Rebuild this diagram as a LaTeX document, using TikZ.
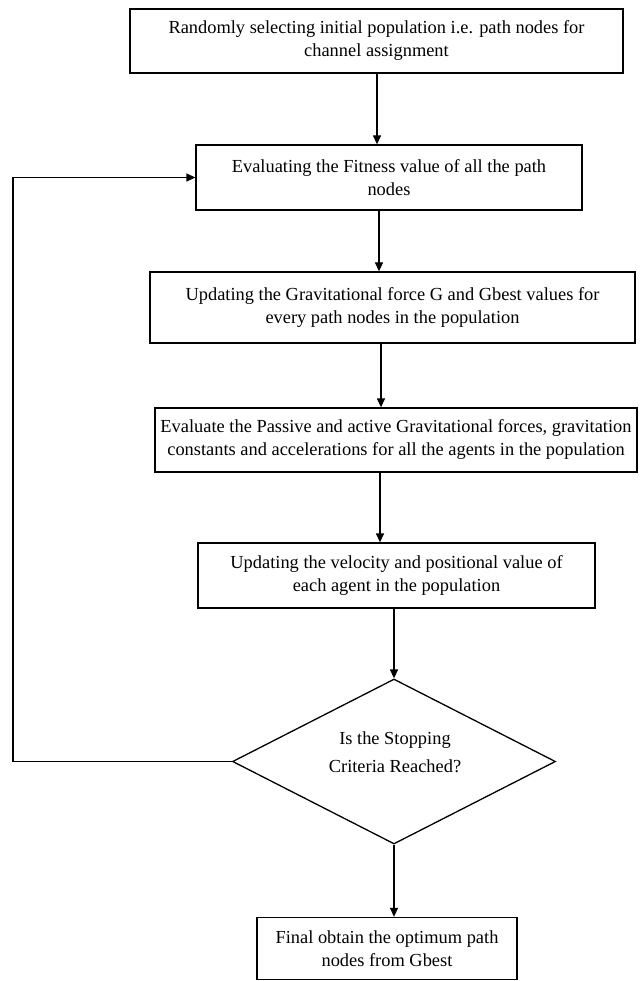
\documentclass[tikz,border=0pt]{standalone}
\usepackage{fontspec}
\setmainfont{Liberation Serif}
\usetikzlibrary{shapes.geometric,arrows.meta}
\begin{document}
\begin{tikzpicture}[x=1pt,y=-1pt,
  txt/.style={font=\fontsize{18.4}{23}\selectfont,align=center},
  box/.style={draw,line width=1.3pt,rectangle,inner sep=0pt,txt},
  arr/.style={line width=1.3pt,-{Triangle[length=9pt,width=8pt]}},
  ]
\useasboundingbox (0,0) rectangle (639,981);
\node[box,minimum width=493pt,minimum height=64pt] (b1) at (376.5,41)
  {Randomly selecting initial population i.e. path nodes for\\channel assignment};
\node[box,minimum width=386pt,minimum height=65pt] (b2) at (389,177.5)
  {Evaluating the Fitness value of all the path\\nodes};
\node[box,minimum width=485pt,minimum height=71pt] (b3) at (392.5,307.5)
  {Updating the Gravitational force G and Gbest values for\\every path nodes in the population};
\node[box,minimum width=482pt,minimum height=64pt] (b4) at (396,440)
  {Evaluate the Passive and active Gravitational forces, gravitation\\constants and accelerations for all the agents in the population};
\node[box,minimum width=397pt,minimum height=65pt] (b5) at (396.5,575.5)
  {Updating the velocity and positional value of\\each agent in the population};
\node[draw,diamond,line width=1.3pt,inner sep=0pt,minimum width=323pt,minimum height=165pt] (d) at (394,761.5) {};
\node[txt,font=\fontsize{18.4}{28}\selectfont] (dt) at (395,752) {Is the Stopping\\Criteria Reached?};
\node[box,minimum width=260pt,minimum height=62pt] (b6) at (387,948.5)
  {Final obtain the optimum path\\nodes from Gbest};
\coordinate (lx) at (13,761.5);
\draw[arr] (b1.south -| 377,0) -- (b2.north -| 377,0);
\draw[arr] (b2.south -| 379,0) -- (b3.north -| 379,0);
\draw[arr] (b3.south -| 381,0) -- (b4.north -| 381,0);
\draw[arr] (b4.south -| 380,0) -- (b5.north -| 380,0);
\draw[arr] (b5.south -| d.north) -- (d.north);
\draw[arr] (d.south) -- (d.south |- b6.north);
\draw[arr] (d.west) -- (lx) |- (b2.west);
\end{tikzpicture}
\end{document}
